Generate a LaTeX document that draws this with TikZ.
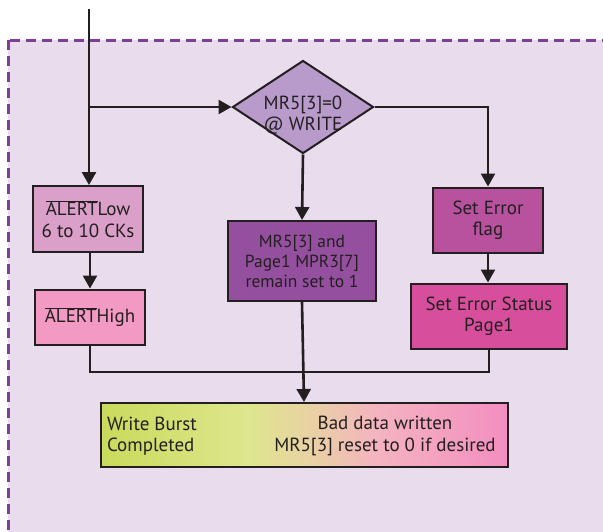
\documentclass[tikz,border=0pt]{standalone}
\usepackage{fontspec}
\setmainfont{PT Sans}
\usetikzlibrary{arrows.meta, positioning, shapes.geometric}

\definecolor{panelbg}{HTML}{E9DCEC}
\definecolor{panelrim}{HTML}{7D3F98}
\definecolor{inkline}{HTML}{231F20}
\definecolor{testfill}{HTML}{B89ACB}
\definecolor{lowfill}{HTML}{DBA0C9}
\definecolor{highfill}{HTML}{F29AC3}
\definecolor{keepfill}{HTML}{944F9E}
\definecolor{flagfill}{HTML}{B8519E}
\definecolor{statfill}{HTML}{D74E9D}
\definecolor{doneA}{HTML}{C9DA5B}
\definecolor{doneB}{HTML}{DEE68E}
\definecolor{doneC}{HTML}{E9D1A4}
\definecolor{doneD}{HTML}{F4B3C0}
\definecolor{doneE}{HTML}{F38EC0}

\pgfdeclarehorizontalshading{doneshade}{100bp}{
  color(0bp)=(doneA); color(25bp)=(doneA); color(43bp)=(doneB);
  color(51bp)=(doneC); color(59bp)=(doneD); color(75bp)=(doneE);
  color(100bp)=(doneE)}

\newcommand{\negsig}[1]{$\overline{\mbox{#1}}$}

\begin{document}
\begin{tikzpicture}[x=1pt, y=-1pt,
  box/.style={rectangle, draw=inkline, line width=2pt, inner sep=0pt,
              align=center, text=inkline, font=\fontsize{19}{21.5}\selectfont},
  flow/.style={-{Triangle[length=13pt,width=14pt]}, line width=2.6pt, draw=inkline},
  mergeline/.style={line width=1.5pt, draw=inkline},
]
\useasboundingbox (0,0) rectangle (603,531);
\clip (0,0) rectangle (603,531);

% ---- panel ----
\draw[panelrim, fill=panelbg, line width=3pt, dash pattern=on 10pt off 6pt]
  (8,40) rectangle (650,580);

% ---- nodes ----
\node[box, diamond, fill=testfill, minimum width=141pt, minimum height=93pt]
  (test) at (303,107) {};
\node[box, draw=none] (testtxt) at (303,115) {MR5[3]=0\\@ WRITE};

\node[box, fill=lowfill, minimum width=110pt, minimum height=66pt]
  (low) at (88,219) {\negsig{ALERT}Low\\6 to 10 CKs};
\node[box, fill=highfill, minimum width=110pt, minimum height=55pt]
  (high) at (90,317) {\negsig{ALERT}High};

\node[box, fill=keepfill, minimum width=148pt, minimum height=80pt,
      font=\fontsize{17.5}{20}\selectfont]
  (keep) at (302,261) {MR5[3] and\\Page1 MPR3[7]\\remain set to 1};

\node[box, fill=flagfill, minimum width=110pt, minimum height=65pt]
  (flag) at (488,220) {Set Error\\flag};
\node[box, fill=statfill, minimum width=156pt, minimum height=65pt]
  (stat) at (489,316) {Set Error Status\\Page1};

\node[box, shading=doneshade, minimum width=407pt, minimum height=64pt]
  (done) at (304,435) {};
\node[box, draw=none, align=left, anchor=west] (donel) at (106,436)
  {Write Burst\\Completed};
\node[box, draw=none] (doner) at (385,436)
  {Bad data written\\MR5[3] reset to 0 if desired};

\coordinate (entry) at (89,9);
\coordinate (split) at (89,107);
\coordinate (merge) at (301,372);

% ---- connectors ----
\draw[flow] (entry) -- (low.north -| split);
\draw[flow] (split) -- (test.west);
\draw[flow] (test.east) -| (flag.north);
\draw[flow] (test.south) -- (keep.north);
\draw[flow] (low.south -| high) -- (high.north);
\draw[flow] (flag.south) -- (flag.south |- stat.north);
\draw[mergeline] (high.south) |- (merge) -| (stat.south);
\draw[flow] (keep.south) -- (done.north);

\end{tikzpicture}
\end{document}
